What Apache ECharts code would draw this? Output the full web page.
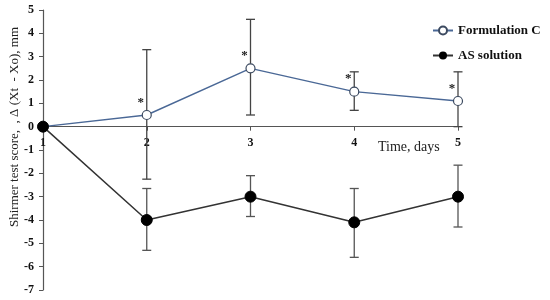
<!DOCTYPE html>
<html>
<head>
<meta charset="utf-8">
<script src="https://cdn.jsdelivr.net/npm/echarts@6/dist/echarts.min.js"></script>
<style>
  html, body { margin: 0; padding: 0; background: #fff; }
  #chart { width: 550px; height: 300px; }
</style>
</head>
<body>
<div id="chart"></div>
<script>
// Time points (days)
const days = [1, 2, 3, 4, 5];

// Formulation C mean and error range
const fcMean = [0, 0.5, 2.5, 1.5, 1.1];
const fcLow = [0, -2.25, 0.5, 0.7, 0];
const fcHigh = [0, 3.3, 4.6, 2.35, 2.35];

// AS solution mean and error range
const asMean = [0, -4.0, -3.0, -4.1, -3.0];
const asLow = [0, -5.3, -3.85, -5.6, -4.3];
const asHigh = [0, -2.65, -2.1, -2.65, -1.65];

// Days marked with significance asterisk
const starDays = [2, 3, 4, 5];

const yMin = -7, yMax = 5;
const gridTop = 10, gridBottom = 10, chartH = 300;

const serif = '"Liberation Serif", "Times New Roman", serif';

function pairs(xs, ys) {
    return xs.map((x, i) => [x, ys[i]]);
}

function errorBars(name, low, high, color) {
    return {
        name: name + ' err',
        type: 'custom',
        silent: true,
        z: 1,
        data: days.map((d, i) => [d, low[i], high[i]]).filter((r, i) => i > 0),
        renderItem: function (params, api) {
            const top = api.coord([api.value(0), api.value(2)]);
            const bot = api.coord([api.value(0), api.value(1)]);
            const w = 4.5;
            const style = { stroke: color, lineWidth: 1.3 };
            return {
                type: 'group',
                children: [
                    { type: 'line', shape: { x1: top[0], y1: top[1], x2: bot[0], y2: bot[1] }, style: style },
                    { type: 'line', shape: { x1: top[0] - w, y1: top[1], x2: top[0] + w, y2: top[1] }, style: style },
                    { type: 'line', shape: { x1: bot[0] - w, y1: bot[1], x2: bot[0] + w, y2: bot[1] }, style: style }
                ]
            };
        }
    };
}

// x axis sits at y = 0: shift it up from the grid bottom
const plotH = chartH - gridTop - gridBottom;
const zeroOffset = -plotH * (0 - yMin) / (yMax - yMin);

const chart = echarts.init(document.getElementById('chart'));

chart.setOption({
    animation: false,
    backgroundColor: '#fff',
    grid: { left: 43, right: 92, top: gridTop, bottom: gridBottom, outerBoundsMode: 'none' },
    legend: {
        orient: 'vertical',
        left: 427,
        top: 19,
        itemGap: 12,
        itemWidth: 20,
        itemHeight: 10,
        data: ['Formulation C', 'AS solution'],
        textStyle: { fontFamily: serif, fontWeight: 'bold', fontSize: 13, color: '#111' }
    },
    xAxis: {
        type: 'value',
        min: 1,
        max: 5,
        interval: 1,
        offset: zeroOffset,
        axisLine: { onZero: false, lineStyle: { color: '#555', width: 1.2 } },
        axisTick: { show: true, inside: false, length: 4, lineStyle: { color: '#555' } },
        axisLabel: {
            fontFamily: serif, fontWeight: 'bold', fontSize: 12, color: '#111', margin: 10
        },
        splitLine: { show: false }
    },
    yAxis: {
        type: 'value',
        min: yMin,
        max: yMax,
        interval: 1,
        axisLine: { show: true, lineStyle: { color: '#555', width: 1.2 } },
        axisTick: { show: true, length: 4, lineStyle: { color: '#555' } },
        axisLabel: {
            fontFamily: serif, fontWeight: 'bold', fontSize: 12, color: '#111', margin: 9
        },
        splitLine: { show: false }
    },
    graphic: [
        {
            type: 'text',
            left: 378,
            top: 140,
            style: { text: 'Time, days', fontFamily: serif, fontSize: 14, fill: '#222' }
        },
        {
            type: 'text',
            x: 15,
            y: 127,
            rotation: Math.PI / 2,
            style: {
                text: 'Shirmer test score,  , \u0394 (Xt  - Xo), mm',
                fontFamily: serif, fontSize: 13, fill: '#222',
                align: 'center', verticalAlign: 'middle'
            }
        }
    ],
    series: [
        errorBars('Formulation C', fcLow, fcHigh, '#444'),
        errorBars('AS solution', asLow, asHigh, '#555'),
        {
            name: 'Formulation C',
            type: 'line',
            z: 3,
            data: pairs(days, fcMean),
            symbol: 'circle',
            symbolSize: 9,
            lineStyle: { color: '#4a6896', width: 1.4 },
            itemStyle: { color: '#fff', borderColor: '#3c4a60', borderWidth: 1.2 },
            label: {
                show: true,
                position: 'top',
                offset: [-6, 4],
                fontFamily: serif,
                fontWeight: 'bold',
                fontSize: 13,
                color: '#222',
                formatter: p => (starDays.includes(p.value[0]) ? '*' : '')
            }
        },
        {
            name: 'AS solution',
            type: 'line',
            z: 4,
            data: pairs(days, asMean),
            symbol: 'circle',
            symbolSize: 11,
            lineStyle: { color: '#333', width: 1.5 },
            itemStyle: { color: '#000', borderColor: '#000' }
        }
    ]
});
</script>
</body>
</html>
